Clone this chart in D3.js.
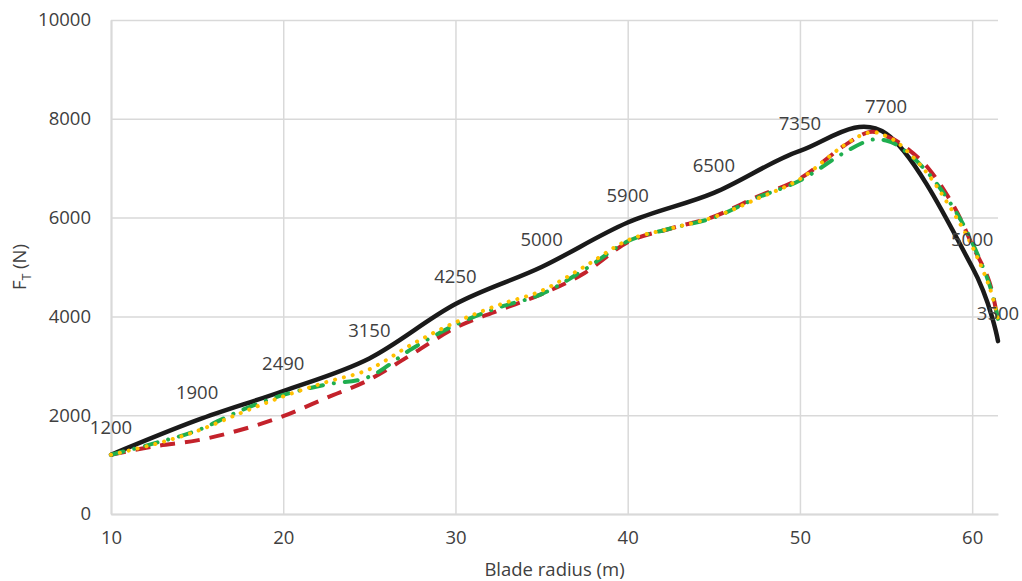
<!DOCTYPE html>
<html>
<head>
<meta charset="utf-8">
<script src="https://cdn.jsdelivr.net/npm/d3@7"></script>
<style>
  body { margin: 0; background: #fff; }
  svg text { font-family: "Open Sans", sans-serif; fill: #404040; }
</style>
</head>
<body>
<div id="chartContainer"></div>
<script>
// measured thrust (black line with labels)
const radiusMeasured = [10, 15, 20, 25, 30, 35, 40, 45, 50, 55, 60, 61.5];
const thrustMeasured = [1200, 1900, 2490, 3150, 4250, 5000, 5900, 6500, 7350, 7700, 5000, 3500];

// simulated curves share one radius grid
const radiusSim = [10, 12.5, 15, 17.5, 20, 22.5, 25, 27.5, 30, 32.5, 35, 37.5, 40, 42.5, 45, 47.5, 50, 52.5, 54, 55, 56, 57.5, 59, 60, 61, 61.5];
const thrustRed = [1200, 1370, 1490, 1700, 1980, 2350, 2720, 3240, 3770, 4120, 4450, 4880, 5500, 5780, 6020, 6420, 6790, 7440, 7730, 7650, 7460, 6980, 6190, 5450, 4700, 3900];
const thrustGreen = [1200, 1430, 1690, 2090, 2410, 2620, 2780, 3350, 3830, 4180, 4450, 4950, 5520, 5780, 6000, 6400, 6750, 7300, 7560, 7560, 7380, 6880, 6150, 5500, 4650, 3950];
const thrustYellow = [1200, 1410, 1680, 2040, 2380, 2670, 2930, 3440, 3880, 4230, 4520, 5010, 5540, 5780, 6010, 6380, 6780, 7450, 7720, 7650, 7420, 6850, 6050, 5420, 4600, 3950];

const xTicks = [10, 20, 30, 40, 50, 60];
const yTicks = [0, 2000, 4000, 6000, 8000, 10000];

const chartWidth = 1022;
const chartHeight = 581;
const margin = { top: 20, right: 24, bottom: 67, left: 111 };
const width = chartWidth - margin.left - margin.right;
const height = chartHeight - margin.top - margin.bottom;
const fontSize = "18.5px";

const svg = d3.select("#chartContainer").append("svg")
  .attr("width", chartWidth)
  .attr("height", chartHeight)
  .append("g")
  .attr("transform", `translate(${margin.left}, ${margin.top})`);

const xScale = d3.scaleLinear().domain([10, 61.5]).range([0, width]);
const yScale = d3.scaleLinear().domain([0, 10000]).range([height, 0]);

// gridlines
svg.append("g")
  .call(d3.axisLeft(yScale).tickValues(yTicks).tickSize(-width).tickFormat(""))
  .call(g => g.select(".domain").remove())
  .selectAll("line").attr("stroke", "#d9d9d9").attr("stroke-width", 1.5);

svg.append("g")
  .attr("transform", `translate(0, ${height})`)
  .call(d3.axisBottom(xScale).tickValues(xTicks).tickSize(-height).tickFormat(""))
  .call(g => g.select(".domain").remove())
  .selectAll("line").attr("stroke", "#d9d9d9").attr("stroke-width", 1.5);

// axis lines + labels
svg.append("g")
  .attr("transform", `translate(0, ${height})`)
  .call(d3.axisBottom(xScale).tickValues(xTicks).tickSize(0).tickPadding(17).tickFormat(d3.format("d")))
  .call(g => g.select(".domain").attr("stroke", "#d9d9d9").attr("stroke-width", 2))
  .selectAll("text").style("font-size", fontSize).attr("fill", "#404040");

svg.append("g")
  .call(d3.axisLeft(yScale).tickValues(yTicks).tickSize(0).tickPadding(20).tickFormat(d3.format("d")))
  .call(g => g.select(".domain").attr("stroke", "#d9d9d9").attr("stroke-width", 2))
  .selectAll("text").style("font-size", fontSize).attr("fill", "#404040");

// axis titles
svg.append("text")
  .attr("x", width / 2)
  .attr("y", height + 62)
  .attr("text-anchor", "middle")
  .style("font-size", fontSize)
  .text("Blade radius (m)");

const yTitle = svg.append("text")
  .attr("transform", `translate(-85, ${height / 2}) rotate(-90)`)
  .attr("text-anchor", "middle")
  .style("font-size", fontSize);
yTitle.append("tspan").text("F");
yTitle.append("tspan").attr("dy", 5).style("font-size", "12px").text("T");
yTitle.append("tspan").attr("dy", -5).text(" (N)");

const line = d3.line()
  .x(d => xScale(d[0]))
  .y(d => yScale(d[1]))
  .curve(d3.curveCardinal.tension(0));

const measured = radiusMeasured.map((r, i) => [r, thrustMeasured[i]]);

// black line
svg.append("path")
  .datum(measured)
  .attr("d", line)
  .attr("fill", "none")
  .attr("stroke", "#1a1a1a")
  .attr("stroke-width", 4.5)
  .attr("stroke-linecap", "round");

// simulated series
const simSeries = [
  { values: thrustRed, color: "#c4222b", dash: "15,10", cap: "butt" },
  { values: thrustGreen, color: "#1fae4f", dash: "13,11,0.1,11", cap: "round" },
  { values: thrustYellow, color: "#ffc000", dash: "0.1,9", cap: "round" }
];

simSeries.forEach(s => {
  svg.append("path")
    .datum(radiusSim.map((r, i) => [r, s.values[i]]))
    .attr("d", line)
    .attr("fill", "none")
    .attr("stroke", s.color)
    .attr("stroke-width", 4)
    .attr("stroke-dasharray", s.dash)
    .attr("stroke-linecap", s.cap);
});

// data labels on measured line
svg.selectAll(".label")
  .data(measured)
  .enter().append("text")
  .attr("class", "label")
  .attr("x", d => xScale(d[0]))
  .attr("y", d => yScale(d[1]) - 21)
  .attr("text-anchor", "middle")
  .style("font-size", fontSize)
  .text(d => d[1]);
</script>
</body>
</html>
